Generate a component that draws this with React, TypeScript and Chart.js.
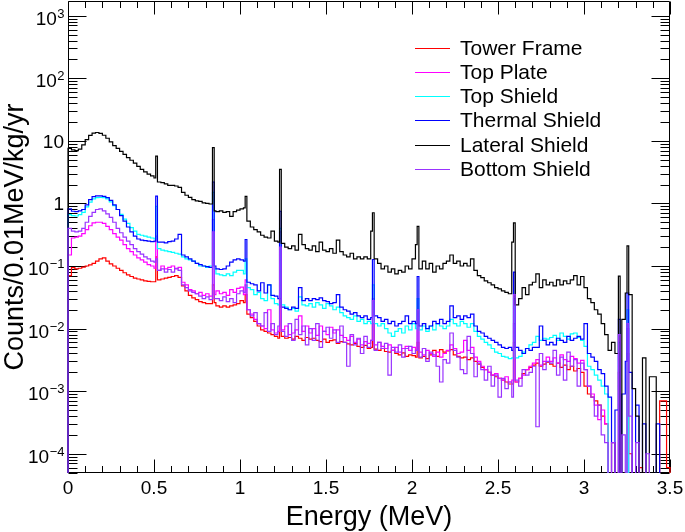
import { useEffect, useRef } from 'react';
import { Chart, registerables } from 'chart.js';

Chart.register(...registerables);

// ---------- data ----------
const BIN_WIDTH = 0.02; // continuum arrays are stored per 0.02 MeV
const FINE_BIN = 0.01; // histogram bin width (MeV)
const X_MIN = 0;
const X_MAX = 3.5;
const Y_MIN = 4.92e-5;
const Y_MAX = 1718;
const FLOOR = 1e-7; // empty bin (drawn below the axis)

const seriesNames = ['Tower Frame', 'Top Plate', 'Top Shield', 'Thermal Shield', 'Lateral Shield', 'Bottom Shield'];
const seriesColors = ['#ff0000', '#ff00ff', '#00ffff', '#0000ff', '#000000', '#9933ff'];

const xTickValues = [0, 0.5, 1, 1.5, 2, 2.5, 3, 3.5];
const xTickLabels = ['0', '0.5', '1', '1.5', '2', '2.5', '3', '3.5'];
const yTickValues = [1e-4, 1e-3, 1e-2, 1e-1, 1, 10, 100, 1000];
const yTickBase = ['10', '10', '10', '10', '1', '10', '10', '10'];
const yTickSup = ['\u22124', '\u22123', '\u22122', '\u22121', '', '', '2', '3'];

const xTitle = 'Energy (MeV)';
const yTitle = 'Counts/0.01MeV/kg/yr';

// gamma lines (MeV)
const lineEnergies = [0.511, 0.847, 1.038, 1.238, 1.771, 2.035, 2.598, 3.202, 3.253];

const towerFrame = [
  0.07, 0.094, 0.09, 0.092, 0.096, 0.1, 0.104, 0.11, 0.12, 0.13,
  0.135, 0.12, 0.108, 0.1, 0.092, 0.085, 0.078, 0.072, 0.068, 0.064,
  0.062, 0.06, 0.058, 0.057, 0.056, 0.056, 0.06, 0.062, 0.064, 0.066,
  0.068, 0.07, 0.066, 0.048, 0.04, 0.034, 0.031, 0.029, 0.027, 0.026,
  0.025, 0.025, 0.026, 0.023, 0.022, 0.023, 0.022, 0.023, 0.024, 0.025,
  0.028, 0.026, 0.017, 0.015, 0.013, 0.011, 0.0095, 0.009, 0.0085, 0.008,
  0.0075, 0.007, 0.0075, 0.007, 0.0072, 0.0068, 0.0075, 0.007, 0.0065, 0.0072,
  0.0068, 0.007, 0.0065, 0.0062, 0.0068, 0.006, 0.0064, 0.0066, 0.0058, 0.0062,
  0.006, 0.0057, 0.0055, 0.0058, 0.0052, 0.005, 0.0054, 0.0048, 0.005, 0.0047,
  0.0045, 0.0048, 0.0043, 0.0042, 0.0045, 0.004, 0.0038, 0.0041, 0.0036, 0.0038,
  0.0037, 0.0035, 0.0034, 0.0036, 0.0033, 0.0038, 0.0045, 0.0036, 0.0046, 0.0042,
  0.0044, 0.0046, 0.0038, 0.0036, 0.0034, 0.0035, 0.0032, 0.0034, 0.003, 0.0027,
  0.0024, 0.0022, 0.002, 0.0018, 0.0017, 0.0016, 0.0015, 0.0014, 0.0013, 0.0013,
  0.0014, 0.0016, 0.0019, 0.0022, 0.0024, 0.0026, 0.0028, 0.0025, 0.0027, 0.0029,
  0.0027, 0.0025, 0.0028, 0.0024, 0.0026, 0.0022, 0.0025, 0.0021, 0.0023, 0.002,
  0.0012, 0.0009, 0.0008, 0.0007, 0.0006, 0.0004, 0.0003, 0, 0.00015, 0,
  0, 0, 0, 0.0001, 0, 0, 0.00006, 0, 0, 0,
  0, 0, 0.0007, 0.0007, 0.00006,
];
const towerFramePeaks = [0.14, 0.05, 0.035, 0.03, 0.012, 0.006, 0.006, 0.002, 0.004];

const topPlate = [
  0.15, 0.28, 0.29, 0.3, 0.33, 0.38, 0.44, 0.49, 0.5, 0.5,
  0.48, 0.43, 0.38, 0.33, 0.29, 0.26, 0.22, 0.19, 0.17, 0.15,
  0.135, 0.125, 0.115, 0.105, 0.1, 0.092, 0.085, 0.1, 0.09, 0.095,
  0.1, 0.09, 0.095, 0.055, 0.05, 0.042, 0.04, 0.036, 0.038, 0.034,
  0.036, 0.033, 0.035, 0.04, 0.036, 0.038, 0.034, 0.042, 0.038, 0.044,
  0.046, 0.035, 0.02, 0.017, 0.014, 0.012, 0.011, 0.01, 0.02, 0.0095,
  0.0085, 0.009, 0.0095, 0.011, 0.008, 0.0085, 0.0095, 0.016, 0.009, 0.011,
  0.0085, 0.01, 0.0078, 0.011, 0.009, 0.008, 0.0105, 0.0085, 0.0095, 0.0078,
  0.0072, 0.0065, 0.0075, 0.006, 0.0068, 0.0055, 0.0062, 0.0058, 0.0065, 0.0055,
  0.006, 0.0052, 0.0048, 0.0055, 0.0045, 0.005, 0.0042, 0.0048, 0.0052, 0.0045,
  0.005, 0.0045, 0.0042, 0.0038, 0.0045, 0.004, 0.0036, 0.0042, 0.0035, 0.004,
  0.0045, 0.0055, 0.0048, 0.004, 0.0042, 0.0065, 0.0045, 0.005, 0.0035, 0.003,
  0.0025, 0.0022, 0.002, 0.0018, 0.0019, 0.0016, 0.0015, 0.0017, 0.0014, 0.0015,
  0.0014, 0.0016, 0.0018, 0.0022, 0.0025, 0.0028, 0.0032, 0.0026, 0.003, 0.0035,
  0.003, 0.0034, 0.0028, 0.0038, 0.0032, 0.003, 0.0036, 0.0033, 0.0028, 0.0031,
  0.0022, 0.0012, 0.0009, 0.0006, 0.00035, 0.0005, 0.0003, 0, 0, 0,
  0, 0, 0, 0, 0, 0, 0, 0, 0, 0,
  0, 0, 0, 0, 0,
];
const topPlatePeaks = [0.3, 0.55, 0.06, 0.35, 0.03, 0.012, 0.012, 0.004, 0.01];

const topShield = [
  0.66, 0.64, 0.63, 0.66, 0.72, 0.88, 1.05, 1.18, 1.24, 1.25,
  1.24, 1.18, 1.06, 0.92, 0.8, 0.67, 0.56, 0.48, 0.41, 0.36,
  0.32, 0.31, 0.3, 0.29, 0.28, 0.27, 0.19, 0.18, 0.175, 0.17,
  0.165, 0.16, 0.155, 0.14, 0.13, 0.125, 0.12, 0.11, 0.1, 0.1,
  0.095, 0.1, 0.09, 0.075, 0.072, 0.07, 0.075, 0.07, 0.08, 0.085,
  0.085, 0.075, 0.045, 0.042, 0.035, 0.038, 0.03, 0.028, 0.05, 0.03,
  0.025, 0.024, 0.024, 0.022, 0.02, 0.021, 0.019, 0.032, 0.024, 0.023,
  0.025, 0.022, 0.026, 0.024, 0.021, 0.025, 0.023, 0.02, 0.022, 0.018,
  0.016, 0.015, 0.014, 0.016, 0.013, 0.014, 0.012, 0.013, 0.012, 0.012,
  0.011, 0.012, 0.01, 0.0085, 0.0075, 0.009, 0.01, 0.0085, 0.011, 0.0095,
  0.012, 0.01, 0.0095, 0.011, 0.009, 0.011, 0.0095, 0.012, 0.011, 0.01,
  0.011, 0.014, 0.012, 0.011, 0.013, 0.012, 0.0105, 0.012, 0.009, 0.0075,
  0.0068, 0.006, 0.0055, 0.0048, 0.0042, 0.004, 0.0036, 0.0035, 0.0033, 0.0034,
  0.0034, 0.0036, 0.0042, 0.0048, 0.0055, 0.006, 0.0075, 0.0065, 0.007, 0.0068,
  0.0072, 0.0078, 0.0065, 0.0085, 0.0075, 0.0068, 0.0082, 0.0085, 0.0072, 0.0065,
  0.0052, 0.0025, 0.0022, 0.0018, 0.0015, 0.0012, 0.0009, 0, 0, 0,
  0, 0, 0, 0, 0, 0, 0, 0, 0, 0,
  0, 0, 0, 0, 0,
];
const topShieldPeaks = [0.9, 1.5, 0.13, 0.4, 0.05, 0.03, 0.03, 0.006, 0.02];

const thermalShield = [
  0.82, 0.75, 0.74, 0.76, 0.8, 0.95, 1.15, 1.28, 1.32, 1.32,
  1.3, 1.24, 1.12, 0.95, 0.8, 0.64, 0.52, 0.42, 0.35, 0.3,
  0.27, 0.26, 0.255, 0.25, 0.245, 0.25, 0.24, 0.24, 0.235, 0.245,
  0.25, 0.27, 0.32, 0.15, 0.14, 0.13, 0.12, 0.11, 0.105, 0.1,
  0.098, 0.095, 0.1, 0.09, 0.088, 0.09, 0.1, 0.115, 0.125, 0.13,
  0.125, 0.12, 0.055, 0.052, 0.05, 0.04, 0.054, 0.037, 0.05, 0.034,
  0.033, 0.03, 0.022, 0.021, 0.02, 0.022, 0.021, 0.045, 0.028, 0.03,
  0.028, 0.03, 0.029, 0.031, 0.028, 0.027, 0.025, 0.026, 0.035, 0.022,
  0.02, 0.019, 0.017, 0.018, 0.016, 0.015, 0.016, 0.014, 0.015, 0.016,
  0.015, 0.013, 0.014, 0.012, 0.013, 0.011, 0.012, 0.013, 0.016, 0.012,
  0.013, 0.012, 0.011, 0.012, 0.01, 0.011, 0.013, 0.012, 0.014, 0.012,
  0.013, 0.023, 0.015, 0.016, 0.014, 0.016, 0.015, 0.017, 0.011, 0.009,
  0.0085, 0.0075, 0.007, 0.0065, 0.006, 0.0055, 0.005, 0.0048, 0.005, 0.0045,
  0.005, 0.0045, 0.004, 0.0048, 0.0045, 0.005, 0.005, 0.011, 0.0065, 0.0055,
  0.006, 0.0055, 0.007, 0.0065, 0.006, 0.0075, 0.0065, 0.007, 0.0075, 0.0068,
  0.012, 0.004, 0.0035, 0.003, 0.0022, 0.0019, 0.0012, 0.0008, 0, 0.0005,
  0, 0.0009, 0.003, 0.002, 0, 0.0006, 0, 0.0003, 0, 0,
  0, 0.0003, 0, 0, 0,
];
const thermalShieldPeaks = [1.31, 2.2, 0.265, 0.75, 0.127, 0.068, 0.08, 0.014, 0.037];

const lateralShield = [
  7.6, 7.2, 7.0, 7.4, 8.6, 10.5, 12.2, 13.3, 13.6, 13.2,
  12.3, 11.0, 9.6, 8.4, 7.6, 6.8, 6.1, 5.4, 4.9, 4.4,
  3.9, 3.5, 3.2, 2.95, 2.75, 2.55, 2.2, 2.15, 2.05, 1.95,
  1.95, 1.9, 1.8, 1.5, 1.35, 1.25, 1.15, 1.1, 1.08, 1.02,
  1.0, 0.98, 0.76, 0.74, 0.76, 0.72, 0.74, 0.62, 0.74, 0.78,
  0.82, 0.85, 0.52, 0.42, 0.38, 0.35, 0.31, 0.29, 0.28, 0.36,
  0.25, 0.24, 0.23, 0.2, 0.19, 0.21, 0.18, 0.32, 0.22, 0.19,
  0.18, 0.21, 0.17, 0.24, 0.18, 0.17, 0.19, 0.16, 0.26, 0.17,
  0.15, 0.14, 0.16, 0.13, 0.14, 0.13, 0.14, 0.13, 0.36, 0.13,
  0.11, 0.09, 0.1, 0.08, 0.09, 0.075, 0.085, 0.08, 0.1, 0.09,
  0.13, 0.22, 0.09, 0.12, 0.09, 0.11, 0.08, 0.1, 0.09, 0.11,
  0.12, 0.15, 0.11, 0.12, 0.1, 0.11, 0.1, 0.13, 0.085, 0.07,
  0.065, 0.058, 0.054, 0.05, 0.045, 0.043, 0.04, 0.038, 0.036, 0.24,
  0.024, 0.03, 0.045, 0.035, 0.05, 0.055, 0.075, 0.045, 0.06, 0.05,
  0.055, 0.048, 0.06, 0.05, 0.058, 0.052, 0.06, 0.07, 0.05, 0.068,
  0.045, 0.03, 0.026, 0.02, 0.017, 0.012, 0.008, 0.0045, 0.006, 0.004,
  0, 0.014, 0.037, 0.035, 0.0011, 0.0004, 0, 0.0034, 0, 0.0017,
  0.0017, 0, 0, 0, 0,
];
const lateralShieldPeaks = [5.7, 7.8, 1.3, 3.5, 0.71, 0.43, 0.49, 0.069, 0.21];

const bottomShield = [
  0.4, 0.36, 0.35, 0.36, 0.4, 0.5, 0.62, 0.72, 0.8, 0.82,
  0.76, 0.68, 0.6, 0.5, 0.4, 0.34, 0.29, 0.25, 0.22, 0.19,
  0.17, 0.155, 0.14, 0.13, 0.12, 0.115, 0.085, 0.09, 0.08, 0.088,
  0.08, 0.092, 0.085, 0.05, 0.045, 0.04, 0.038, 0.036, 0.033, 0.03,
  0.032, 0.029, 0.03, 0.03, 0.028, 0.032, 0.027, 0.03, 0.026, 0.036,
  0.04, 0.038, 0.02, 0.016, 0.018, 0.012, 0.011, 0.018, 0.009, 0.012,
  0.008, 0.011, 0.009, 0.0075, 0.012, 0.0065, 0.014, 0.008, 0.011, 0.0055,
  0.01, 0.0065, 0.012, 0.005, 0.009, 0.0105, 0.007, 0.0095, 0.006, 0.011,
  0.006, 0.0025, 0.008, 0.0055, 0.007, 0.004, 0.0075, 0.005, 0.0065, 0.0045,
  0.006, 0.0048, 0.0058, 0.0018, 0.005, 0.0042, 0.0055, 0.0035, 0.0048, 0.0052,
  0.004, 0.0045, 0.0035, 0.0048, 0.003, 0.0042, 0.0038, 0.0025, 0.0014, 0.0032,
  0.0028, 0.0085, 0.0045, 0.0035, 0.0022, 0.0019, 0.0075, 0.004, 0.0017, 0.0028,
  0.0022, 0.0015, 0.0025, 0.0012, 0.0018, 0.0008, 0.0016, 0.0011, 0.0014, 0.0008,
  0.0015, 0.0012, 0.0022, 0.0018, 0.002, 0.0025, 0.00027, 0.004, 0.0022, 0.003,
  0.0028, 0.0045, 0.0018, 0.0035, 0.0015, 0.0042, 0.0025, 0.0032, 0.0012, 0.0028,
  0.0022, 0.0012, 0.0008, 0.0004, 0.0006, 0.0002, 0.00015, 0, 0.00015, 0,
  0, 0.0002, 0, 0.0004, 0, 0.00015, 0, 0, 0.0001, 0,
  0, 0, 0, 0, 0,
];
const bottomShieldPeaks = [0.13, 0.35, 0.05, 0.2, 0.028, 0.02, 0.035, 0.008, 0.012];

const seriesContinua = [towerFrame, topPlate, topShield, thermalShield, lateralShield, bottomShield];
const seriesPeaks = [towerFramePeaks, topPlatePeaks, topShieldPeaks, thermalShieldPeaks, lateralShieldPeaks, bottomShieldPeaks];

// ---------- build histogram points ----------
function buildPoints(cont: number[], peaks: number[]) {
  const ratio = Math.round(BIN_WIDTH / FINE_BIN);
  const nFine = Math.round((X_MAX - X_MIN) / FINE_BIN);
  const fine: number[] = [];
  for (let j = 0; j < nFine; j++) fine.push(cont[Math.floor(j / ratio)] ?? 0);
  lineEnergies.forEach((e, k) => {
    const j = Math.floor(e / FINE_BIN + 1e-6);
    if (j >= 0 && j < nFine) fine[j] = peaks[k];
  });
  const pts: { x: number; y: number }[] = [{ x: X_MIN, y: FLOOR }];
  fine.forEach((v, j) => pts.push({ x: X_MIN + j * FINE_BIN, y: v > 0 ? v : FLOOR }));
  pts.push({ x: X_MAX, y: FLOOR });
  return pts;
}

const FONT = '"Liberation Sans", Arial, Helvetica, sans-serif';

const rootAxesPlugin = {
  id: 'rootAxes',
  beforeDatasetsDraw(chart: any) {
    const { ctx, chartArea: a, scales } = chart;
    const xs = scales.x;
    const ys = scales.y;
    ctx.save();
    ctx.strokeStyle = '#000';
    ctx.lineWidth = 1;
    const L = Math.round(a.left) + 0.5;
    const R = Math.round(a.right) - 0.5;
    const T = Math.round(a.top) + 0.5;
    const B = Math.round(a.bottom) - 0.5;
    ctx.beginPath();
    ctx.rect(L, T, R - L, B - T);
    // x ticks (bottom and top)
    for (let i = 0; i <= 35; i++) {
      const e = i / 10;
      const px = Math.round(xs.getPixelForValue(e)) + 0.5;
      const len = i % 5 === 0 ? 13 : 6.5;
      ctx.moveTo(px, B);
      ctx.lineTo(px, B - len);
      ctx.moveTo(px, T);
      ctx.lineTo(px, T + len);
    }
    // y ticks (left and right)
    for (let ex = -6; ex <= 4; ex++) {
      for (let m = 1; m <= 9; m++) {
        const v = m * Math.pow(10, ex);
        if (v < Y_MIN || v > Y_MAX) continue;
        const py = Math.round(ys.getPixelForValue(v)) + 0.5;
        const len = m === 1 ? 18 : 9;
        ctx.moveTo(L, py);
        ctx.lineTo(L + len, py);
        ctx.moveTo(R, py);
        ctx.lineTo(R - len, py);
      }
    }
    ctx.stroke();

    // x labels
    ctx.fillStyle = '#000';
    ctx.font = `19px ${FONT}`;
    ctx.textAlign = 'center';
    ctx.textBaseline = 'alphabetic';
    xTickValues.forEach((v, i) => {
      ctx.fillText(xTickLabels[i], xs.getPixelForValue(v), 494);
    });

    // y labels
    const rightEdge = 64;
    yTickValues.forEach((v, i) => {
      const py = ys.getPixelForValue(v);
      const base = yTickBase[i];
      const sup = yTickSup[i];
      ctx.textAlign = 'left';
      if (sup) {
        ctx.font = `13px ${FONT}`;
        const sw = ctx.measureText(sup).width;
        ctx.font = `19px ${FONT}`;
        const bw = ctx.measureText(base).width;
        const x0 = rightEdge - sw - bw;
        ctx.fillText(base, x0, py + 9);
        ctx.font = `13px ${FONT}`;
        ctx.fillText(sup, x0 + bw + 0.5, py + 2);
      } else {
        ctx.font = `19px ${FONT}`;
        const bw = ctx.measureText(base).width;
        ctx.fillText(base, rightEdge - bw, py + 7);
      }
    });

    // axis titles
    ctx.font = `27px ${FONT}`;
    ctx.textAlign = 'center';
    ctx.textBaseline = 'alphabetic';
    ctx.fillText(xTitle, (a.left + a.right) / 2, 525);
    ctx.save();
    ctx.translate(23, (a.top + a.bottom) / 2);
    ctx.rotate(-Math.PI / 2);
    ctx.fillText(yTitle, 0, 0);
    ctx.restore();
    ctx.restore();
  },
  afterDraw(chart: any) {
    const { ctx } = chart;
    ctx.save();
    const x1 = 415;
    const x2 = 450;
    const tx = 460;
    const y0 = 47.5;
    const dy = 24.3;
    ctx.font = `21px ${FONT}`;
    ctx.textAlign = 'left';
    ctx.textBaseline = 'alphabetic';
    seriesNames.forEach((name, i) => {
      const y = Math.round(y0 + i * dy) + 0.5;
      ctx.strokeStyle = seriesColors[i];
      ctx.lineWidth = 1.2;
      ctx.beginPath();
      ctx.moveTo(x1, y);
      ctx.lineTo(x2, y);
      ctx.stroke();
      ctx.fillStyle = '#000';
      ctx.fillText(name, tx, y + 6);
    });
    ctx.restore();
  },
};

export default function App() {
  const ref = useRef<HTMLCanvasElement | null>(null);
  useEffect(() => {
    const canvas = ref.current;
    if (!canvas) return;
    const datasets = seriesNames.map((name, i) => ({
      label: name,
      data: buildPoints(seriesContinua[i], seriesPeaks[i]),
      borderColor: seriesColors[i],
      backgroundColor: seriesColors[i],
      borderWidth: 1.2,
      pointRadius: 0,
      pointHoverRadius: 0,
      stepped: true as const,
      fill: false,
      tension: 0,
      order: seriesNames.length - i,
      clip: { left: 2, top: 0, right: 1, bottom: 0 },
    }));
    const chart = new Chart(canvas, {
      type: 'line',
      data: { datasets },
      options: {
        animation: false,
        responsive: false,
        maintainAspectRatio: false,
        devicePixelRatio: 1,
        events: [],
        layout: { padding: { left: 68, right: 15, top: 1, bottom: 59 } },
        plugins: { legend: { display: false }, tooltip: { enabled: false }, title: { display: false } },
        scales: {
          x: { type: 'linear', min: X_MIN, max: X_MAX, display: false },
          y: { type: 'logarithmic', min: Y_MIN, max: Y_MAX, display: false },
        },
      },
      plugins: [rootAxesPlugin],
    });
    return () => chart.destroy();
  }, []);
  return (
    <div style={{ position: 'absolute', left: 0, top: 0, width: 685, height: 532, background: '#fff' }}>
      <canvas ref={ref} width={685} height={532} style={{ display: 'block' }} />
    </div>
  );
}
